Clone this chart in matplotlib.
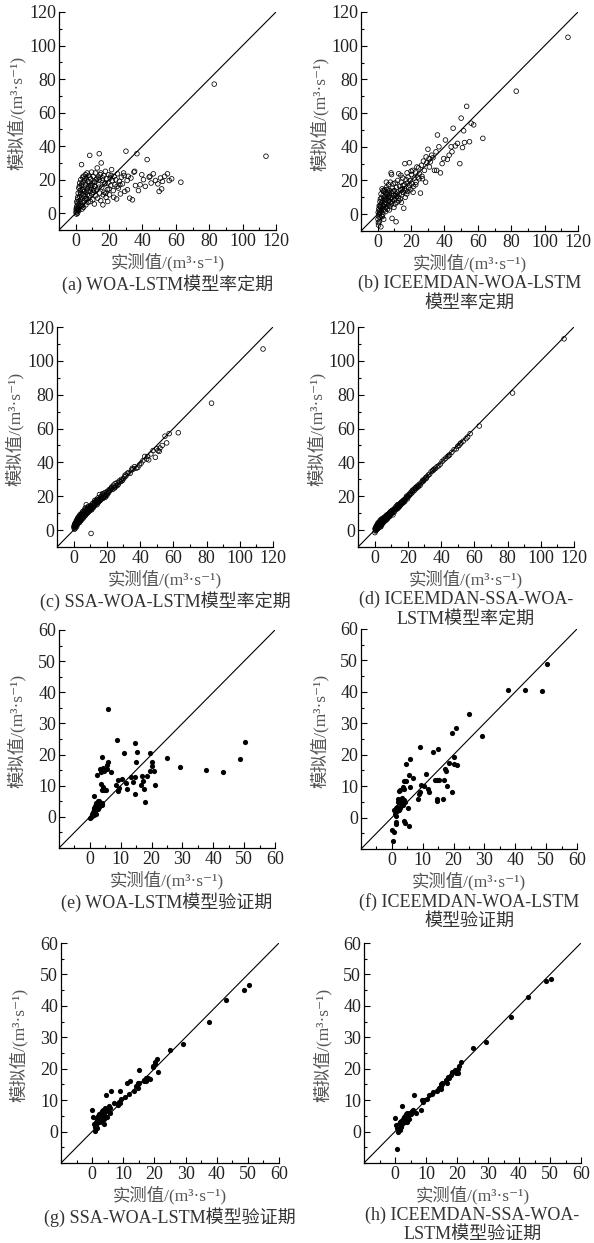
import numpy as np
import matplotlib.pyplot as plt
from matplotlib.ticker import MultipleLocator

plt.rcParams['font.family'] = ['Liberation Serif', 'Noto Sans CJK SC', 'DejaVu Serif']

# calibration period: observed flow and simulated flow of the four models
cal_obs = [0.2, 0.3, 0.5, 0.6, 0.8, 0.9, 1.0, 1.1, 1.3, 1.4,
           1.5, 1.6, 1.8, 1.9, 2.0, 2.1, 2.3, 2.4, 2.6, 2.7,
           2.9, 3.0, 3.2, 3.3, 3.5, 3.6, 3.8, 3.9, 4.1, 4.2,
           4.4, 4.5, 4.7, 4.8, 5.0, 5.1, 5.3, 5.5, 5.6, 5.8,
           6.0, 6.1, 6.3, 6.5, 6.7, 6.8, 7.0, 7.2, 7.4, 7.6,
           7.8, 8.0, 8.2, 8.4, 8.6, 8.8, 9.0, 9.3, 9.5, 9.7,
           10.0, 10.2, 10.5, 10.7, 11.0, 11.2, 11.5, 11.8, 12.0, 12.3,
           12.6, 12.9, 13.2, 13.5, 13.8, 14.1, 14.4, 14.7, 15.0, 15.3,
           15.6, 16.0, 16.3, 16.7, 17.0, 17.4, 17.8, 18.2, 18.6, 19.0,
           19.4, 19.8, 20.2, 20.6, 21.0, 21.5, 22.0, 22.5, 23.0, 23.5,
           24.0, 24.5, 25.0, 25.6, 26.2, 26.8, 27.4, 28.0, 28.7, 29.4,
           30.1, 30.8, 31.5, 32.3, 33.1, 34.0, 34.9, 35.8, 36.7, 37.6,
           38.6, 39.6, 40.6, 41.7, 42.8, 44.0, 45.2, 46.5, 47.8, 49.2,
           50.0, 50.8, 52.0, 53.3, 55.0, 56.0, 57.5, 63.0, 83.0, 114.0,
           0.4, 1.2, 2.2, 3.1, 4.0, 5.2, 6.4, 7.3, 8.3, 9.1,
           10.4, 11.4, 12.7, 13.9, 15.1, 16.5, 17.6, 19.2, 21.2, 24.8,
           0.7, 1.7, 2.8, 3.7, 4.6, 5.7, 6.9, 8.7, 10.9, 14.2,
           16.1, 18.0, 20.0, 22.8, 26.5, 29.0, 31.0, 35.3, 44.5, 51.5]

cal_woa = [0.5, 2.0, -0.5, 4.0, 1.0, 6.0, 3.0, 0.0, 8.5, 2.5,
           12.0, 5.0, 1.5, 15.0, 7.0, 3.5, 10.0, 18.0, 6.0, 13.5,
           8.0, 20.0, 4.0, 16.5, 29.0, 9.5, 2.5, 14.0, 21.5, 6.5,
           18.5, 11.0, 3.5, 22.0, 13.0, 7.5, 19.5, 15.5, 10.0, 23.0,
           17.0, 5.0, 21.0, 12.5, 8.5, 24.0, 14.5, 19.0, 6.5, 16.0,
           22.5, 10.5, 18.0, 34.5, 13.0, 7.0, 20.5, 15.0, 24.5, 11.5,
           17.5, 8.0, 22.0, 13.5, 19.0, 5.5, 16.0, 24.0, 10.5, 20.0,
           14.0, 27.0, 9.0, 21.5, 17.0, 35.5, 12.0, 23.0, 7.5, 30.0,
           15.5, 19.5, 5.0, 22.5, 12.5, 17.5, 25.0, 9.5, 20.5, 14.0,
           18.0, 23.0, 11.0, 21.0, 16.5, 26.0, 19.5, 13.5, 22.0, 17.0,
           20.0, 8.5, 23.5, 15.0, 19.0, 11.5, 21.5, 17.5, 24.0, 13.0,
           37.0, 19.5, 22.0, 9.0, 21.0, 8.0, 24.5, 16.5, 35.5, 13.5,
           17.0, 23.0, 20.0, 16.0, 32.0, 21.5, 18.0, 23.5, 19.5, 17.5,
           13.0, 21.0, 19.0, 22.0, 23.5, 19.5, 20.5, 18.5, 77.0, 34.0,
           3.0, 9.5, 16.0, 11.5, 4.5, 20.5, 9.0, 13.0, 21.5, 16.5,
           12.5, 18.5, 20.5, 15.5, 24.0, 11.0, 18.0, 7.0, 22.5, 16.0,
           7.0, 2.0, 12.5, 17.5, 14.0, 8.5, 11.0, 16.5, 14.5, 20.0,
           21.0, 12.0, 14.5, 9.5, 17.0, 22.5, 14.0, 25.0, 22.0, 14.5]

cal_iceemdan = [-3.0, 1.0, -6.5, 3.0, -1.5, 5.0, -4.5, 2.0, 0.5, 7.5,
                -2.0, 9.0, 4.0, -7.5, 12.0, 2.0, 6.5, -1.0, 15.0, 3.5,
                8.0, 0.0, 11.0, 5.0, 13.5, -3.0, 9.5, 6.0, 2.5, 14.5,
                7.0, 10.5, 1.5, 12.5, 4.0, 8.5, 16.0, 6.0, 11.5, 3.0,
                9.5, 13.0, 5.5, 17.5, 8.0, 11.0, 2.5, 14.0, 7.0, 19.0,
                10.0, 24.5, 6.0, 12.5, -2.5, 15.5, 9.0, 18.0, 11.0, 4.0,
                14.0, 8.5, 18.5, 11.0, -4.5, 16.0, 7.0, 13.0, 20.0, 9.5,
                24.0, 12.0, 16.5, 9.0, 14.5, 19.0, 11.5, 15.0, 21.5, 13.0,
                3.5, 17.5, 30.0, 14.0, 20.5, 12.0, 18.5, 22.0, 15.5, 30.5,
                20.0, 14.5, 23.5, 18.0, 26.0, 16.5, 21.5, 25.0, 19.0, 28.0,
                22.0, 27.5, 24.0, 12.5, 29.0, 21.0, 31.5, 26.0, 19.0, 30.5,
                38.5, 33.0, 31.0, 35.0, 33.5, 26.0, 37.0, 47.0, 40.0, 24.5,
                30.0, 33.0, 44.0, 32.5, 35.0, 40.0, 51.0, 40.5, 42.0, 30.0,
                57.0, 39.5, 42.5, 64.0, 43.0, 54.0, 53.0, 45.0, 73.0, 105.0,
                -5.0, 4.5, 9.5, 14.0, 6.0, 19.0, 10.0, 4.5, 23.5, 13.5,
                6.0, 10.5, 8.0, 23.0, 17.0, 10.0, 24.5, 17.0, 13.0, 21.0,
                0.0, 5.5, -1.5, 3.0, 9.0, 14.5, 12.5, 7.5, 12.0, 7.0,
                15.0, 13.5, 25.5, 17.5, 22.5, 34.0, 28.0, 26.0, 37.0, 49.5]

cal_ssa = [1.5, 2.5, 0.5, 3.0, 2.0, 4.0, 1.0, 3.5, 2.5, 4.5,
           3.0, 5.5, 2.0, 4.5, 6.0, 3.0, 5.0, 7.0, 4.0, 6.5,
           7.5, 5.0, 8.0, 6.0, 7.0, 4.5, 9.0, 6.5, 8.5, 5.5,
           7.0, 9.5, 6.0, 8.0, 10.0, 7.5, 9.0, 11.0, 8.0, 9.5,
           8.5, 10.5, 9.0, 11.5, 12.0, 9.5, 13.0, 10.0, 11.0, 15.0,
           11.0, 10.0, 12.5, 13.5, 10.5, 12.0, 14.0, 11.5, 13.0, 12.5,
           12.0, 13.5, -2.0, 14.0, 13.0, 15.5, 14.5, 16.0, 13.5, 15.0,
           16.0, 15.5, 17.0, 16.5, 18.0, 15.0, 17.5, 19.0, 16.5, 18.0,
           21.0, 17.5, 19.5, 20.0, 18.5, 21.5, 19.0, 20.5, 22.0, 20.0,
           21.0, 22.5, 21.5, 23.0, 22.0, 24.0, 23.5, 24.5, 25.5, 24.0,
           26.5, 25.0, 27.5, 26.0, 28.0, 27.0, 29.0, 28.5, 30.0, 29.5,
           30.5, 31.5, 32.0, 33.5, 34.0, 33.5, 35.5, 36.0, 37.5, 36.5,
           37.0, 38.5, 39.5, 41.0, 43.5, 42.0, 41.5, 45.0, 47.0, 43.0,
           48.0, 47.0, 48.5, 50.0, 55.5, 51.5, 57.0, 57.5, 75.0, 107.0,
           2.0, 3.0, 5.0, 6.5, 7.0, 9.0, 10.5, 10.0, 13.0, 12.0,
           14.5, 14.0, 17.5, 16.0, 17.0, 18.5, 21.0, 19.5, 23.0, 25.0,
           3.5, 4.0, 4.5, 5.5, 6.5, 7.0, 8.5, 11.0, 12.0, 17.0,
           18.0, 19.0, 20.5, 25.0, 26.5, 29.0, 32.5, 36.5, 43.5, 46.5]

cal_full = [-1.5, 0.5, 1.0, -0.5, 1.5, 0.0, 2.5, 1.0, 0.5, 2.0,
            3.0, 0.5, 2.5, 4.0, 1.0, 3.5, 2.0, 4.5, 3.0, 1.5,
            5.0, 2.5, 4.0, 3.0, 6.0, 4.5, 2.0, 5.5, 3.5, 6.5,
            5.0, 3.5, 6.0, 4.0, 7.0, 5.5, 4.5, 6.5, 5.0, 7.5,
            6.0, 7.5, 5.5, 8.0, 7.0, 6.0, 8.5, 7.0, 9.0, 6.5,
            8.0, 9.0, 7.5, 9.5, 8.5, 10.0, 8.0, 10.5, 9.0, 11.0,
            9.5, 11.0, 10.0, 11.5, 9.0, 12.0, 10.5, 12.5, 11.0, 13.0,
            12.0, 14.0, 13.0, 12.5, 14.5, 13.5, 15.0, 14.0, 15.5, 14.5,
            15.0, 16.5, 15.5, 17.0, 16.0, 17.5, 18.0, 17.0, 18.5, 19.0,
            19.5, 18.5, 20.0, 21.0, 20.5, 22.0, 21.5, 23.0, 22.5, 24.0,
            23.5, 25.0, 24.5, 26.0, 25.5, 27.0, 26.5, 28.0, 28.5, 29.0,
            30.0, 31.0, 31.5, 32.5, 33.0, 34.5, 35.0, 36.0, 36.5, 37.5,
            38.0, 39.0, 40.5, 41.5, 42.5, 43.5, 44.5, 46.0, 47.5, 48.0,
            49.5, 50.0, 51.5, 52.5, 54.0, 55.0, 57.0, 61.5, 81.0, 113.0,
            1.0, 2.0, 2.5, 4.0, 3.5, 5.5, 7.0, 7.5, 9.0, 8.5,
            11.5, 12.0, 12.5, 15.0, 14.0, 16.5, 16.5, 20.0, 21.0, 25.0,
            0.0, 1.5, 3.5, 2.5, 4.5, 6.5, 6.0, 8.0, 10.5, 13.0,
            16.0, 17.5, 19.5, 23.5, 26.0, 29.5, 30.5, 35.5, 44.0, 51.0]

# validation period
val_obs = [0.0, 0.3, 0.6, 0.8, 1.0, 1.2, 1.3, 1.5, 1.5, 1.7,
           1.8, 2.0, 2.1, 2.2, 2.3, 2.5, 2.6, 2.8, 3.0, 3.1,
           3.3, 3.5, 3.6, 3.8, 3.9, 3.9, 4.0, 4.2, 4.4, 4.6,
           4.7, 5.2, 5.5, 5.7, 5.8, 6.0, 6.9, 8.4, 8.7, 9.0,
           9.0, 9.3, 10.4, 11.1, 11.8, 12.1, 13.4, 14.1, 14.7, 14.7,
           14.7, 15.1, 15.2, 16.5, 16.8, 17.2, 17.4, 18.0, 18.5, 19.5,
           19.6, 20.2, 20.3, 20.7, 21.2, 25.0, 29.3, 37.5, 43.0, 48.7,
           50.3]

val_woa = [-0.5, 0.0, 0.8, 0.3, 1.5, 2.5, 0.5, 3.0, 6.7, 2.0,
           3.5, 4.5, 1.0, 13.3, 3.0, 5.0, 2.5, 4.0, 5.2, 3.3,
           15.3, 10.6, 14.5, 3.8, 19.2, 8.7, 4.5, 15.6, 9.7, 8.5,
           14.8, 8.5, 15.5, 16.7, 17.5, 34.6, 14.3, 10.2, 24.7, 11.8,
           8.4, 9.4, 12.1, 20.4, 10.8, 8.8, 12.9, 11.3, 23.6, 12.9,
           7.5, 17.6, 20.7, 10.2, 13.1, 11.5, 8.8, 4.8, 13.0, 20.5,
           14.6, 17.5, 16.3, 14.7, 10.2, 19.0, 16.0, 15.0, 14.5, 18.5,
           24.0]

val_iceemdan = [-4.0, -7.5, -4.5, 2.5, 1.0, -1.5, 3.0, -2.0, 0.5, 2.0,
                3.5, 6.0, 5.0, 8.5, 2.5, 4.5, 3.0, 8.8, 5.0, 4.5,
                6.3, 9.8, 4.0, 9.2, -1.0, 11.6, 5.5, -1.8, 5.0, 11.6,
                17.2, 3.0, 13.5, -2.8, 9.8, 18.7, 12.7, 6.0, 7.5, 8.0,
                22.5, 10.5, 10.0, 13.8, 9.2, 8.2, 20.8, 12.1, 5.2, 12.1,
                6.0, 21.7, 12.1, 6.0, 12.1, 15.3, 14.9, 10.2, 17.4, 26.8,
                8.1, 19.3, 17.2, 28.4, 16.7, 33.0, 26.0, 40.5, 40.5, 40.3,
                49.0]

val_ssa = [6.9, 4.5, 2.5, 1.5, 0.2, 3.0, 2.0, 4.0, 1.0, 3.5,
           4.5, 5.0, 3.0, 4.0, 5.5, 3.5, 4.5, 6.0, 5.0, 3.0,
           6.5, 5.5, 7.0, 4.0, 6.0, 2.5, 7.5, 5.0, 11.5, 6.5,
           4.5, 7.0, 8.0, 6.0, 7.5, 13.0, 9.0, 8.5, 9.5, 13.0,
           9.0, 10.5, 11.0, 15.5, 12.0, 16.0, 13.0, 14.5, 15.5, 15.0,
           14.0, 19.5, 15.5, 16.0, 16.5, 17.0, 16.0, 17.0, 16.8, 21.0,
           20.5, 22.0, 21.5, 23.0, 19.0, 26.0, 28.0, 35.0, 42.0, 45.0,
           46.5]

val_full = [4.2, 2.0, -5.5, 1.0, 0.0, 1.5, 2.5, 0.5, 3.0, 2.0,
            1.5, 3.5, 2.5, 3.0, 8.0, 4.0, 3.0, 3.5, 4.5, 3.0,
            5.0, 4.0, 5.5, 3.0, 4.5, 6.0, 3.5, 5.0, 6.0, 4.0,
            5.5, 5.5, 6.5, 7.0, 6.5, 11.5, 6.0, 7.0, 10.0, 9.5,
            10.0, 10.0, 10.5, 11.5, 12.0, 12.5, 13.0, 14.0, 14.5, 13.5,
            15.0, 15.0, 15.5, 16.5, 15.5, 17.5, 17.0, 18.0, 19.0, 19.5,
            18.5, 20.0, 18.5, 21.0, 22.0, 26.5, 28.5, 36.5, 42.8, 48.0,
            48.5]

captions = ['(a) WOA-LSTM模型率定期',
            '(b) ICEEMDAN-WOA-LSTM\n模型率定期',
            '(c) SSA-WOA-LSTM模型率定期',
            '(d) ICEEMDAN-SSA-WOA-\nLSTM模型率定期',
            '(e) WOA-LSTM模型验证期',
            '(f) ICEEMDAN-WOA-LSTM\n模型验证期',
            '(g) SSA-WOA-LSTM模型验证期',
            '(h) ICEEMDAN-SSA-WOA-\nLSTM模型验证期']
xlabel = '实测值/(m³·s⁻¹)'
ylabel = '模拟值/(m³·s⁻¹)'

W, H = 594, 1243
fig = plt.figure(figsize=(W / 100, H / 100), dpi=100)

# axes boxes in pixels: left, top, right, bottom
boxes = [(59, 12, 276, 230), (361, 12, 578, 231),
         (57, 327, 273, 547), (358, 327, 574, 547),
         (59, 630, 275, 848), (361, 629, 577, 849),
         (61, 943, 279, 1163), (364, 943, 581, 1163)]


def panel(box, obs, sim, top, major, filled, caption):
    l, t, r, b = box
    ax = fig.add_axes([l / W, 1 - b / H, (r - l) / W, (b - t) / H])
    ax.plot([-10, top], [-10, top], color='black', lw=0.8, zorder=1)
    if filled:
        ax.scatter(obs, sim, s=14, color='black', lw=0, zorder=2)
    else:
        ax.scatter(obs, sim, s=11, facecolors='none', edgecolors='black',
                   lw=0.55, zorder=2)
    ax.set_xlim(-10, top)
    ax.set_ylim(-10, top)
    ax.set_xticks(np.arange(0, top + 1, major))
    ax.set_yticks(np.arange(0, top + 1, major))
    ax.xaxis.set_minor_locator(MultipleLocator(major / 2))
    ax.yaxis.set_minor_locator(MultipleLocator(major / 2))
    ax.tick_params(which='both', direction='in', width=0.8, labelsize=13,
                   labelcolor='#222222', pad=2)
    ax.tick_params(which='major', length=4)
    ax.tick_params(which='minor', length=2)
    for side in ['top', 'right']:
        ax.spines[side].set_visible(False)
    for side in ['left', 'bottom']:
        ax.spines[side].set_linewidth(0.9)
    cx = (l + r) / 2
    fig.text(cx / W, 1 - (b + 32) / H, xlabel, ha='center', va='center',
             fontsize=12.5, color='#555555')
    fig.text((l - 42) / W, 1 - ((t + b) / 2 - 8) / H, ylabel, rotation=90,
             ha='center', va='center', fontsize=12.5, color='#555555')
    fig.text(cx / W, 1 - (b + 44) / H, caption, ha='center', va='top',
             fontsize=13, color='#333333', linespacing=1.15)
    return ax


cal_sims = [cal_woa, cal_iceemdan, cal_ssa, cal_full]
val_sims = [val_woa, val_iceemdan, val_ssa, val_full]
for i in range(4):
    panel(boxes[i], cal_obs, cal_sims[i], 120, 20, False, captions[i])
for i in range(4):
    panel(boxes[i + 4], val_obs, val_sims[i], 60, 10, True, captions[i + 4])

fig.savefig('out.png', dpi=100)
